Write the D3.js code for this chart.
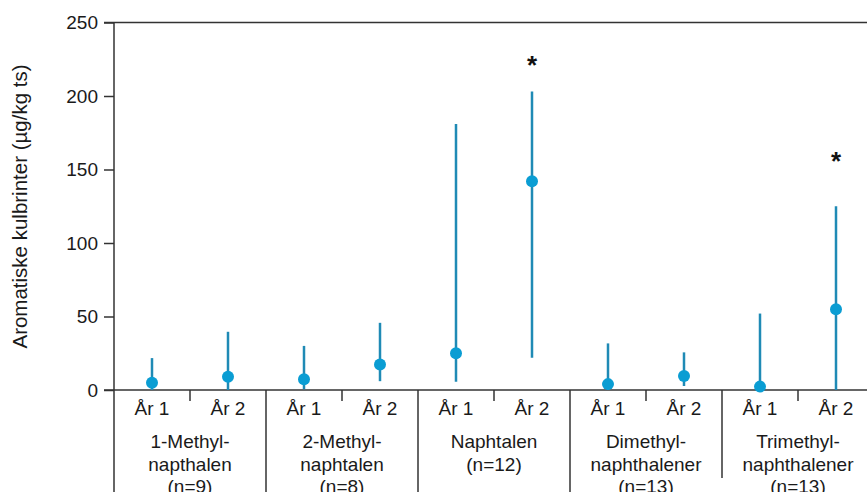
<!DOCTYPE html>
<html><head><meta charset="utf-8">
<script src="https://cdn.jsdelivr.net/npm/d3@7"></script>
<style>body{margin:0;background:#fff}svg{display:block;font-family:"Liberation Sans",Arial,sans-serif}</style>
</head><body><svg id="c" width="867" height="492"></svg>
<script>
const groups = [
  ["1-Methyl-", "napthalen", "(n=9)"],
  ["2-Methyl-", "naphtalen", "(n=8)"],
  ["Naphtalen", "(n=12)"],
  ["Dimethyl-", "naphthalener", "(n=13)"],
  ["Trimethyl-", "naphthalener", "(n=13)"]
];
const years = ["År 1", "År 2"];
const medians = [5, 9, 7.3, 17.4, 25, 142, 4, 9.5, 2.3, 55];
const lows    = [0, 0, 0.5, 6, 5.6, 22, 0, 2.7, 0, 0];
const highs   = [21.7, 39.6, 30, 45.7, 181, 203, 31.7, 25.6, 52, 125];
const sigIndex = [5, 9];
const sigLevel = [223, 158];
const yTicks = [0, 50, 100, 150, 200, 250];
const yTitle = "Aromatiske kulbrinter (µg/kg ts)";

const svg = d3.select("#c");
const axisColor = "#333";
const keys = d3.range(groups.length * years.length);
const x = d3.scaleBand().domain(keys).range([114, 874]).padding(0);
const y = d3.scaleLinear().domain([0, 250]).range([390, 22.5]);

// Y axis
const yAxis = svg.append("g").attr("transform", "translate(114,0)")
  .call(d3.axisLeft(y).tickValues(yTicks).tickSize(10).tickPadding(6));
yAxis.select(".domain").remove();
yAxis.selectAll("line").attr("stroke", axisColor).attr("stroke-width", 1.5);
yAxis.selectAll("text").attr("font-size", 19).attr("fill", "#1a1a1a")
  .attr("font-family", "Liberation Sans, Arial, sans-serif");
// vertical axis line to bottom
svg.append("line").attr("x1", 114).attr("x2", 114).attr("y1", y(250)).attr("y2", 492)
  .attr("stroke", axisColor).attr("stroke-width", 1.5);
// top line
svg.append("line").attr("x1", 104).attr("x2", 867).attr("y1", y(250)).attr("y2", y(250))
  .attr("stroke", axisColor).attr("stroke-width", 1.5);
// baseline
svg.append("line").attr("x1", 104).attr("x2", 867).attr("y1", y(0)).attr("y2", y(0))
  .attr("stroke", axisColor).attr("stroke-width", 1.5);

// title
svg.append("text").attr("transform", `translate(27,${(60+353)/2}) rotate(-90)`)
  .attr("text-anchor", "middle").attr("font-size", 20.5).attr("fill", "#1a1a1a").text(yTitle);

// minor ticks between years
groups.forEach((g, gi) => {
  const xm = x(gi * 2 + 1);
  svg.append("line").attr("x1", xm).attr("x2", xm).attr("y1", y(0)).attr("y2", y(0) + 11)
    .attr("stroke", axisColor).attr("stroke-width", 1.5);
  if (gi > 0) {
    const xd = x(gi * 2);
    svg.append("line").attr("x1", xd).attr("x2", xd).attr("y1", y(0)).attr("y2", gi === 4 ? 478 : 492)
      .attr("stroke", axisColor).attr("stroke-width", 1.5);
  }
  // group label
  const cx = x(gi * 2) + x.bandwidth();
  const t = svg.append("text").attr("text-anchor", "middle").attr("font-size", 19).attr("fill", "#1a1a1a");
  g.forEach((line, li) => {
    t.append("tspan").attr("x", cx).attr("y", 448 + li * 22.5).text(line);
  });
});

// year labels
keys.forEach(k => {
  svg.append("text").attr("x", x(k) + x.bandwidth() / 2).attr("y", 415)
    .attr("text-anchor", "middle").attr("font-size", 19).attr("fill", "#1a1a1a")
    .text(years[k % 2]);
});

// whiskers
svg.append("g").selectAll("line").data(keys).join("line")
  .attr("x1", k => x(k) + x.bandwidth() / 2).attr("x2", k => x(k) + x.bandwidth() / 2)
  .attr("y1", k => y(lows[k])).attr("y2", k => y(highs[k]))
  .attr("stroke", "#1f8ab5").attr("stroke-width", 2.5);
// dots
svg.append("g").selectAll("circle").data(keys).join("circle")
  .attr("cx", k => x(k) + x.bandwidth() / 2).attr("cy", k => y(medians[k]))
  .attr("r", 6).attr("fill", "#0a9dd3");
// significance
sigIndex.forEach((k, i) => {
  svg.append("text").attr("x", x(k) + x.bandwidth() / 2).attr("y", y(sigLevel[i]) + 12)
    .attr("text-anchor", "middle").attr("font-size", 26).attr("font-weight", "bold")
    .attr("fill", "#111").text("*");
});
</script></body></html>
